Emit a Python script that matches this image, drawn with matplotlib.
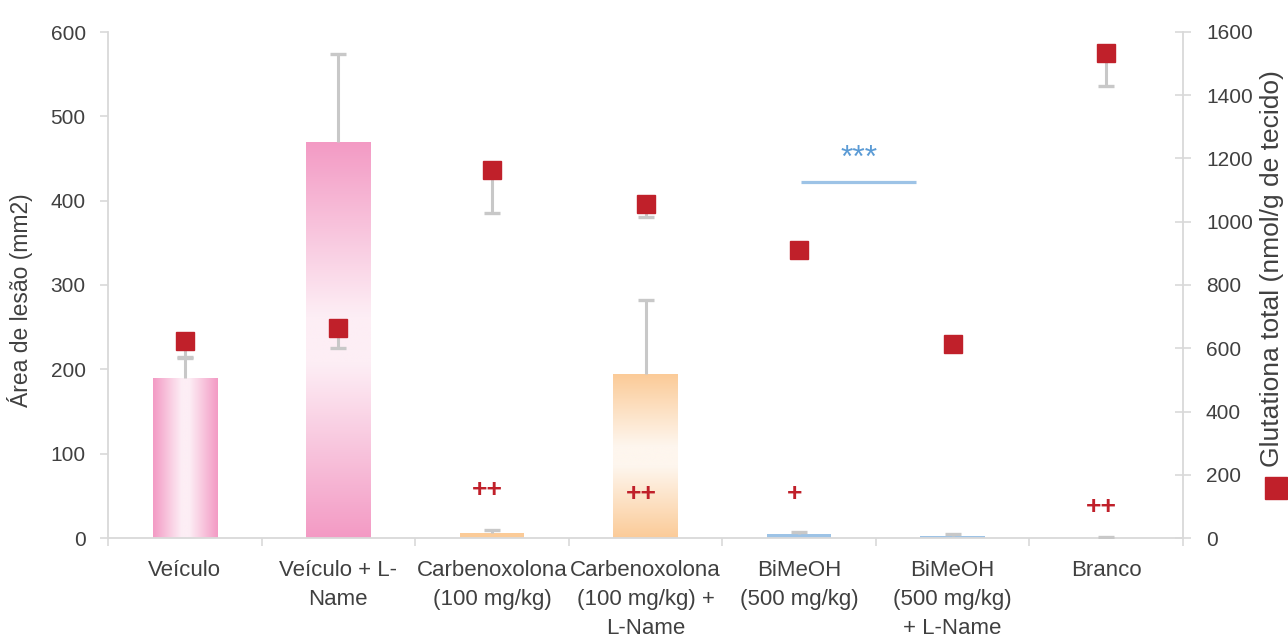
import numpy as np
import matplotlib
matplotlib.use("Agg")
import matplotlib.pyplot as plt
from matplotlib.lines import Line2D
from matplotlib.colors import to_rgb

plt.rcParams['font.family'] = ['Liberation Sans', 'DejaVu Sans']

# ---- data ----
categories = ["Veículo", "Veículo + L-\nName", "Carbenoxolona\n(100 mg/kg)",
              "Carbenoxolona\n(100 mg/kg) +\nL-Name", "BiMeOH\n(500 mg/kg)",
              "BiMeOH\n(500 mg/kg)\n+ L-Name", "Branco"]
lesion_area = [190, 470, 6, 194, 4.5, 2.5, 0.5]          # mm2 (left axis)
lesion_err = [23, 104, 3.5, 88, 2.5, 2.5, 1]
glutathione = [623, 664, 1164, 1056, 911, 613, 1533]      # nmol/g (right axis)
glutathione_err = [51, 63, 136, 41, 0, 0, 104]
plus_marks = ["", "", "++", "++", "+", "", "++"]
plus_y = [0, 0, 57, 52, 52, 0, 37]

# bar styles: (edge colour, centre colour, gradient direction)
bar_styles = [("#f39ac4", "#fdeef5", "h"), ("#f39ac4", "#fdeef5", "v"),
              ("#fbcb98", "#fef6ee", None), ("#fbcb98", "#fef6ee", "v"),
              ("#9dc3e6", "#9dc3e6", None), ("#9dc3e6", "#9dc3e6", None),
              ("#bfbfbf", "#bfbfbf", None)]

TXT = "#404040"
AX = "#d9d9d9"
RED = "#c0202a"
ERR = "#c8c8c8"

fig = plt.figure(figsize=(12.88, 6.37), dpi=100)
ax = fig.add_axes([108/1288, 1-538/637, (1183-108)/1288, (538-32)/637])
x = np.arange(len(categories))

bars = ax.bar(x, lesion_area, width=0.42, zorder=2,
              color=[s[0] for s in bar_styles], linewidth=0)

# gradient fills
t = np.linspace(0, 1, 256)
d = np.abs(t - 0.5) * 2
w = np.clip((d - 0.12) / 0.88, 0, 1)
for rect, (edge, centre, direction) in zip(bars, bar_styles):
    if direction is None:
        continue
    e = np.array(to_rgb(edge)); c = np.array(to_rgb(centre))
    cols = c[None, :] * (1 - w[:, None]) + e[None, :] * w[:, None]
    if direction == "v":
        img = cols[:, None, :]
    else:
        img = cols[None, :, :]
    x0 = rect.get_x(); x1 = x0 + rect.get_width(); h = rect.get_height()
    rect.set_facecolor("none")
    im = ax.imshow(img, extent=(x0, x1, 0, h), origin="lower",
                   aspect="auto", zorder=2, interpolation="bilinear")
    im.set_clip_path(rect)

la = np.array(lesion_area); le = np.array(lesion_err)
ax.errorbar(x, la, yerr=[np.zeros(len(x)), le], fmt="none",
            ecolor=ERR, elinewidth=2.2, capsize=0, zorder=3)
ax.plot(x, la + le, linestyle="none", marker="_", markersize=12,
        markeredgewidth=2.4, color=ERR, zorder=3)

for xi, (m, yy) in enumerate(zip(plus_marks, plus_y)):
    if m:
        ax.text(xi - 0.03, yy, m, color=RED, fontsize=19, fontweight="bold",
                ha="center", va="center", zorder=5)

# significance line
ax.plot([4.01, 4.76], [422, 422], color="#9dc3e6", lw=2.3, zorder=4,
        solid_capstyle="butt")
ax.text(4.39, 449, "***", color="#5b9bd5", fontsize=23, ha="center",
        va="center")

ax.set_xlim(-0.5, len(categories) - 0.5)
ax.set_ylim(0, 600)
ax.set_yticks(np.arange(0, 601, 100))
ax.set_xticks(x)
ax.set_xticklabels(categories, fontsize=16, color=TXT, linespacing=1.5)
ax.set_xticks(np.arange(-0.5, len(categories), 1), minor=True)
ax.tick_params(axis="x", which="major", length=0, pad=16)
ax.tick_params(axis="x", which="minor", length=6, width=1.2, color=AX,
               direction="out")
ax.tick_params(axis="y", length=6, width=1.2, color=AX, labelcolor=TXT,
               labelsize=15, pad=10)
ax.set_ylabel("Área de lesão (mm2)", fontsize=16.5, color=TXT)
ax.yaxis.set_label_coords(-0.0698, 0.47)
for s in ["top", "right"]:
    ax.spines[s].set_visible(False)
for s in ["left", "bottom"]:
    ax.spines[s].set_color(AX)
    ax.spines[s].set_linewidth(1.3)

ax2 = ax.twinx()
g = np.array(glutathione, dtype=float); ge = np.array(glutathione_err, dtype=float)
ax2.errorbar(x, g, yerr=[ge, np.zeros(len(x))],
             fmt="none", ecolor=ERR, elinewidth=2.2, capsize=0, zorder=3)
caps = np.where(ge > 0, g - ge, np.nan)
ax2.plot(x, caps, linestyle="none", marker="_", markersize=12,
         markeredgewidth=2.4, color=ERR, zorder=3)
ax2.plot(x, g, linestyle="none", marker="s", markersize=13,
         color=RED, zorder=4, label="Glutationa total")
ax2.set_ylim(0, 1600)
ax2.set_yticks(np.arange(0, 1601, 200))
ax2.tick_params(axis="y", length=12, width=1.2, color=AX, labelcolor=TXT,
                labelsize=15, pad=10.5, direction="inout")
ax2.set_ylabel("Glutationa total (nmol/g de tecido)", fontsize=19, color=TXT)
ax2.yaxis.set_label_coords(1.0716, 0.5316)
for s in ["top", "left", "bottom"]:
    ax2.spines[s].set_visible(False)
ax2.spines["right"].set_color(AX)
ax2.spines["right"].set_linewidth(1.3)

handle = Line2D([], [], linestyle="none", marker="s", markersize=16, color=RED)
fig.legend([handle], [""], loc="center",
           bbox_to_anchor=(1276/1288, 1-489/637), frameon=False,
           handlelength=1.0, handletextpad=0, borderpad=0, borderaxespad=0)

fig.savefig("out.png", dpi=100)
